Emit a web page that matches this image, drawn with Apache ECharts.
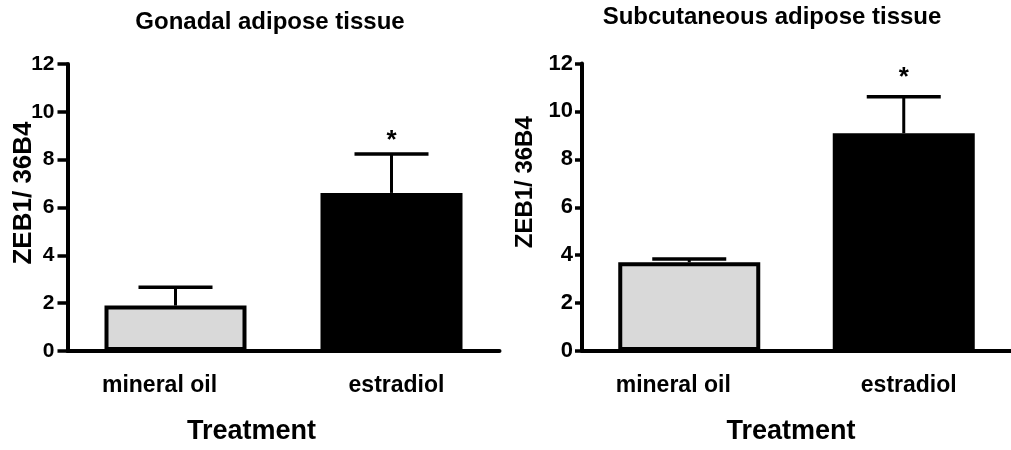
<!DOCTYPE html>
<html><head><meta charset="utf-8">
<script src="https://cdn.jsdelivr.net/npm/echarts@6/dist/echarts.min.js"></script>
<style>html,body{margin:0;padding:0;background:#fff}#c{width:1011px;height:450px}</style>
</head><body><div id="c"></div>
<script>
// ---- data ----
const categories = ['mineral oil', 'estradiol'];
const panelTitles = ['Gonadal adipose tissue', 'Subcutaneous adipose tissue'];
const yAxisTitle = 'ZEB1/ 36B4';
const xAxisTitle = 'Treatment';
const gonadalMean = [1.9, 6.61];
const gonadalErrTop = [2.67, 8.24];
const subcutMean = [3.7, 9.09];
const subcutErrTop = [3.84, 10.61];
const gonadalSig = ['', '*'];
const subcutSig = ['', '*'];
const yMin = 0, yMax = 12, yStep = 2;

// ---- styles ----
const FONT = "'Liberation Sans', Arial, Helvetica, sans-serif";
const barFill = ['#d9d9d9', '#000000'];

function errRender(sig, starGap) {
  return function (params, api) {
    const x = api.value(0), m = api.value(1), t = api.value(2);
    const p0 = api.coord([x, m]), p1 = api.coord([x, t]);
    const cap = 37;
    const ch = [
      { type: 'line', shape: { x1: p0[0], y1: p0[1], x2: p1[0], y2: p1[1] }, style: { stroke: '#000', lineWidth: 3 } },
      { type: 'line', shape: { x1: p1[0] - cap, y1: p1[1], x2: p1[0] + cap, y2: p1[1] }, style: { stroke: '#000', lineWidth: 3.5 } }
    ];
    const s = sig[params.dataIndex];
    if (s) ch.push({ type: 'text', style: { text: s, x: p1[0], y: p1[1] - starGap, align: 'center', verticalAlign: 'bottom', font: 'bold 26px ' + FONT, fill: '#000' } });
    return { type: 'group', children: ch };
  };
}

function xAxisCfg(gi, namePadRight) {
  return {
    type: 'category', gridIndex: gi, data: categories,
    axisLine: { lineStyle: { color: '#000', width: 4 } },
    axisTick: { alignWithLabel: true, length: 10, lineStyle: { color: '#000', width: 4 } },
    axisLabel: {
      margin: 23, color: '#000', fontFamily: FONT, fontWeight: 'bold', fontSize: 23,
      formatter: (v, i) => (i === 0 ? '{a|' + v + '}' : '{b|' + v + '}'),
      rich: {
        a: { fontFamily: FONT, fontWeight: 'bold', fontSize: 23, color: '#000', padding: [0, 32, 0, 0] },
        b: { fontFamily: FONT, fontWeight: 'bold', fontSize: 23, color: '#000', padding: [0, 0, 0, 10] }
      }
    },
    name: xAxisTitle, nameLocation: 'middle', nameGap: 67, nameMoveOverlap: false,
    nameTextStyle: { color: '#000', fontFamily: FONT, fontWeight: 'bold', fontSize: 27, padding: [0, namePadRight, 0, 0] }
  };
}

function yAxisCfg(gi, fs, nameFs, nameGap, namePadLeft, tickLen, labelMargin) {
  return {
    type: 'value', gridIndex: gi, min: yMin, max: yMax, interval: yStep,
    splitLine: { show: false },
    axisLine: { show: true, lineStyle: { color: '#000', width: 4 } },
    axisTick: { show: true, length: tickLen, lineStyle: { color: '#000', width: 3.5 } },
    axisLabel: { margin: labelMargin, color: '#000', fontFamily: FONT, fontWeight: 'bold', fontSize: fs },
    name: yAxisTitle, nameLocation: 'middle', nameGap: nameGap, nameMoveOverlap: false,
    nameTextStyle: { color: '#000', fontFamily: FONT, fontWeight: 'bold', fontSize: nameFs, padding: [0, 0, 0, namePadLeft] }
  };
}

const chart = echarts.init(document.getElementById('c'), null, { renderer: 'canvas' });
chart.setOption({
  animation: false,
  backgroundColor: '#fff',
  title: [
    { text: panelTitles[0], left: 270, top: 10, textAlign: 'center', padding: 0, textStyle: { color: '#000', fontFamily: FONT, fontWeight: 'bold', fontSize: 24 } },
    { text: panelTitles[1], left: 772, top: 5, textAlign: 'center', padding: 0, textStyle: { color: '#000', fontFamily: FONT, fontWeight: 'bold', fontSize: 24 } }
  ],
  grid: [
    { left: 67.5, top: 64, width: 432, height: 288 },
    { left: 582, top: 63.5, width: 432, height: 288 }
  ],
  xAxis: [xAxisCfg(0, 64), xAxisCfg(1, 11)],
  yAxis: [yAxisCfg(0, 21, 26, 31, 29, 10, 13), yAxisCfg(1, 22, 24, 45, 50, 7, 9)],
  series: [
    { type: 'bar', xAxisIndex: 0, yAxisIndex: 0, barWidth: 142,
      data: gonadalMean.map((v, i) => ({ value: v, itemStyle: { color: barFill[i], borderColor: '#000', borderWidth: 4 } })) },
    { type: 'custom', xAxisIndex: 0, yAxisIndex: 0, renderItem: errRender(gonadalSig, 0), z: 5,
      data: gonadalMean.map((v, i) => [i, v, gonadalErrTop[i]]) },
    { type: 'bar', xAxisIndex: 1, yAxisIndex: 1, barWidth: 142,
      data: subcutMean.map((v, i) => ({ value: v, itemStyle: { color: barFill[i], borderColor: '#000', borderWidth: 4 } })) },
    { type: 'custom', xAxisIndex: 1, yAxisIndex: 1, renderItem: errRender(subcutSig, 6), z: 5,
      data: subcutMean.map((v, i) => [i, v, subcutErrTop[i]]) }
  ]
});
</script></body></html>
